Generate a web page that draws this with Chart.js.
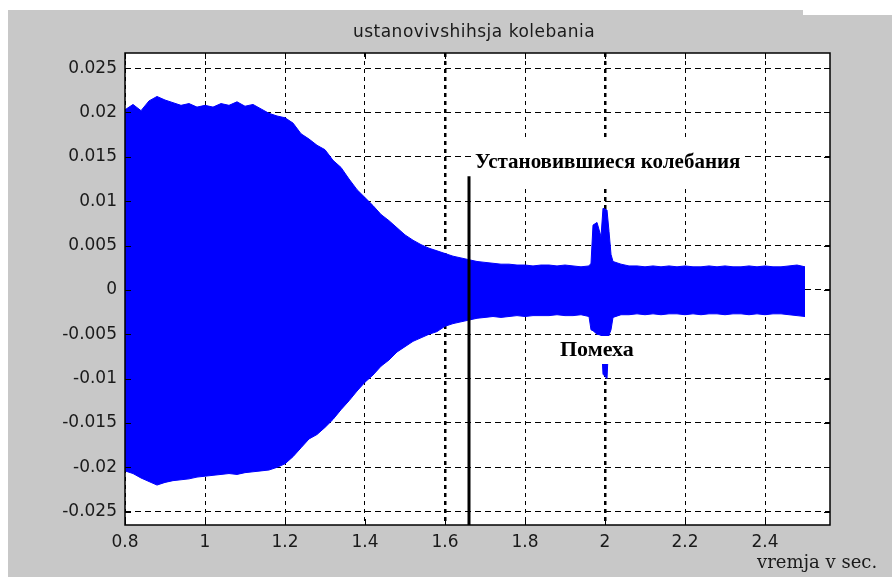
<!DOCTYPE html>
<html>
<head>
<meta charset="utf-8">
<script src="https://cdn.jsdelivr.net/npm/chart.js@4"></script>
<style>
  body { margin: 0; background: #fff; }
  canvas { display: block; }
</style>
</head>
<body>
<canvas id="myChart" width="892" height="577"></canvas>
<script>
// envelope of the oscillation
const times = [0.80, 0.82, 0.84, 0.86, 0.88, 0.90, 0.92, 0.94, 0.96, 0.98,
  1.00, 1.02, 1.04, 1.06, 1.08, 1.10, 1.12, 1.14, 1.16, 1.18,
  1.20, 1.22, 1.24, 1.26, 1.28, 1.30, 1.32, 1.34, 1.36, 1.38,
  1.40, 1.42, 1.44, 1.46, 1.48, 1.50, 1.52, 1.54, 1.56, 1.58,
  1.60, 1.62, 1.64, 1.66, 1.68, 1.70, 1.72, 1.74, 1.76, 1.78,
  1.80, 1.82, 1.84, 1.86, 1.88, 1.90, 1.92, 1.94, 1.96, 1.965,
  1.97, 1.98, 1.99, 1.995, 2.005, 2.01, 2.015, 2.02, 2.04, 2.06,
  2.08, 2.10, 2.12, 2.14, 2.16, 2.18, 2.20, 2.22, 2.24, 2.26,
  2.28, 2.30, 2.32, 2.34, 2.36, 2.38, 2.40, 2.42, 2.44, 2.46,
  2.48, 2.50];
const upper = [0.0203, 0.0209, 0.0202, 0.0213, 0.0218, 0.0214, 0.0211, 0.0208, 0.0210, 0.0206,
  0.0208, 0.0206, 0.0210, 0.0208, 0.0212, 0.0207, 0.0209, 0.0204, 0.0199, 0.0196,
  0.0194, 0.0188, 0.0176, 0.0170, 0.0163, 0.0158, 0.0146, 0.0138, 0.0125, 0.0113,
  0.0104, 0.0095, 0.0085, 0.0078, 0.0070, 0.0062, 0.0056, 0.0051, 0.0047, 0.0044,
  0.0041, 0.0038, 0.0036, 0.0034, 0.0032, 0.0031, 0.0030, 0.0029, 0.0029, 0.0028,
  0.0028, 0.0027, 0.0028, 0.0028, 0.0027, 0.0028, 0.0027, 0.0026, 0.0027, 0.0030,
  0.0073, 0.0076, 0.0060, 0.0092, 0.0090, 0.0066, 0.0040, 0.0032, 0.0029, 0.0027,
  0.0027, 0.0026, 0.0027, 0.0026, 0.0027, 0.0026, 0.0027, 0.0026, 0.0026, 0.0027,
  0.0026, 0.0027, 0.0026, 0.0026, 0.0027, 0.0026, 0.0027, 0.0026, 0.0026, 0.0027,
  0.0028, 0.0026];
const lower = [-0.0204, -0.0207, -0.0212, -0.0216, -0.0220, -0.0217, -0.0215, -0.0214, -0.0213, -0.0211,
  -0.0210, -0.0209, -0.0208, -0.0207, -0.0208, -0.0206, -0.0205, -0.0204, -0.0203, -0.0200,
  -0.0196, -0.0188, -0.0178, -0.0168, -0.0163, -0.0155, -0.0146, -0.0135, -0.0125, -0.0114,
  -0.0104, -0.0096, -0.0086, -0.0079, -0.0070, -0.0064, -0.0058, -0.0054, -0.0050, -0.0047,
  -0.0041, -0.0038, -0.0036, -0.0034, -0.0032, -0.0031, -0.0030, -0.0031, -0.0030, -0.0029,
  -0.0030, -0.0029, -0.0029, -0.0029, -0.0028, -0.0029, -0.0029, -0.0028, -0.0030, -0.0045,
  -0.0046, -0.0050, -0.0051, -0.0095, -0.0100, -0.0051, -0.0045, -0.0031, -0.0028, -0.0028,
  -0.0027, -0.0028, -0.0027, -0.0028, -0.0027, -0.0027, -0.0028, -0.0027, -0.0028, -0.0027,
  -0.0027, -0.0028, -0.0027, -0.0027, -0.0028, -0.0027, -0.0028, -0.0027, -0.0027, -0.0028,
  -0.0029, -0.0030];

const xTicks = [0.8, 1.0, 1.2, 1.4, 1.6, 1.8, 2.0, 2.2, 2.4];
const xTickLabels = ['0.8', '1', '1.2', '1.4', '1.6', '1.8', '2', '2.2', '2.4'];
const yTicks = [-0.025, -0.02, -0.015, -0.01, -0.005, 0, 0.005, 0.01, 0.015, 0.02, 0.025];
const yTickLabels = ['-0.025', '-0.02', '-0.015', '-0.01', '-0.005', '0', '0.005', '0.01', '0.015', '0.02', '0.025'];

const steadyTime = 1.66;   // black marker line
const steadyTop = 0.0128;
const noiseTime = 2.0;

const GREY = 'rgb(200,200,200)';
const BLUE = 'rgb(0,0,255)';

// grey figure background + white axes box
const backdrop = {
  id: 'backdrop',
  beforeDraw(chart) {
    const c = chart.ctx, a = chart.chartArea;
    c.save();
    c.fillStyle = '#fff';
    c.fillRect(0, 0, chart.width, chart.height);
    c.fillStyle = GREY;
    c.beginPath();
    c.moveTo(8, 10); c.lineTo(803, 10); c.lineTo(803, 15);
    c.lineTo(892, 15); c.lineTo(892, 577); c.lineTo(8, 577);
    c.closePath();
    c.fill();
    c.fillStyle = '#fff';
    c.fillRect(a.left, a.top, a.right - a.left, a.bottom - a.top);
    c.restore();
  }
};

function boxedText(c, txt, x, y, padX, padY) {
  const w = c.measureText(txt).width;
  c.fillStyle = '#fff';
  c.fillRect(x - padX, y - padY, w + 2 * padX, 2 * padY);
  c.fillStyle = '#000';
  c.fillText(txt, x, y);
}

const extras = {
  id: 'extras',
  afterDatasetsDraw(chart) {
    const c = chart.ctx, a = chart.chartArea;
    const xs = chart.scales.x, ys = chart.scales.y;
    c.save();
    // frame
    c.strokeStyle = '#000';
    c.lineWidth = 1.5;
    c.strokeRect(a.left, a.top, a.right - a.left, a.bottom - a.top);
    // inward ticks
    c.lineWidth = 1;
    xTicks.forEach(v => {
      const px = Math.round(xs.getPixelForValue(v)) + 0.5;
      c.beginPath();
      c.moveTo(px, a.bottom); c.lineTo(px, a.bottom - 6);
      c.moveTo(px, a.top); c.lineTo(px, a.top + 6);
      c.stroke();
    });
    yTicks.forEach(v => {
      const py = Math.round(ys.getPixelForValue(v)) + 0.5;
      c.beginPath();
      c.moveTo(a.left, py); c.lineTo(a.left + 6, py);
      c.moveTo(a.right, py); c.lineTo(a.right - 6, py);
      c.stroke();
    });

    // annotations
    c.textBaseline = 'middle';
    c.textAlign = 'left';
    c.font = 'bold 21px "Liberation Serif"';
    boxedText(c, 'Установившиеся колебания', xs.getPixelForValue(1.675), 163, 4, 24);
    c.font = 'bold 22px "Liberation Serif"';
    boxedText(c, 'Помеха', xs.getPixelForValue(noiseTime) - 45, 350, 4, 14);

    const lx = xs.getPixelForValue(steadyTime);
    c.strokeStyle = '#000';
    c.lineWidth = 3;
    c.beginPath();
    c.moveTo(lx, ys.getPixelForValue(steadyTop));
    c.lineTo(lx, a.bottom);
    c.stroke();

    // title and x label
    c.fillStyle = '#1a1a1a';
    c.textAlign = 'center';
    c.font = '17px "DejaVu Sans"';
    c.letterSpacing = '0.5px';
    c.fillText('ustanovivshihsja kolebania', 474, 33);
    c.letterSpacing = '0px';
    c.textAlign = 'left';
    c.font = '18px "DejaVu Serif"';
    c.fillText('vremja v sec.', 757, 563);
    c.restore();
  }
};

const ctx = document.getElementById('myChart');
const myChart = new Chart(ctx, {
  type: 'line',
  data: {
    datasets: [{
      data: times.map((t, i) => ({ x: t, y: upper[i] })),
      borderColor: BLUE,
      backgroundColor: BLUE,
      borderWidth: 1,
      pointRadius: 0,
      tension: 0,
      fill: '+1'
    }, {
      data: times.map((t, i) => ({ x: t, y: lower[i] })),
      borderColor: BLUE,
      backgroundColor: BLUE,
      borderWidth: 1,
      pointRadius: 0,
      tension: 0,
      fill: false
    }]
  },
  options: {
    responsive: false,
    animation: false,
    devicePixelRatio: 1,
    layout: { padding: { left: 0, right: 62, top: 53, bottom: 0 } },
    plugins: { legend: { display: false }, tooltip: { enabled: false } },
    scales: {
      x: {
        type: 'linear',
        min: 0.8,
        max: 2.5625,
        afterFit(scale) { scale.height = 52; },
        afterBuildTicks(scale) { scale.ticks = xTicks.map(v => ({ value: v })); },
        grid: {
          color: '#000',
          lineWidth: c => (c.tick && (c.tick.value === 1.6 || c.tick.value === 2.0)) ? 2.5 : 1,
          drawTicks: false
        },
        border: { display: false, dash: [4, 4] },
        ticks: {
          padding: 7,
          color: '#1a1a1a',
          font: { family: 'DejaVu Sans', size: 17 },
          callback: (v, i) => xTickLabels[i]
        }
      },
      y: {
        type: 'linear',
        min: -0.0265,
        max: 0.0267,
        afterFit(scale) { scale.width = 125; },
        afterBuildTicks(scale) { scale.ticks = yTicks.map(v => ({ value: v })); },
        grid: { color: '#000', lineWidth: 1, drawTicks: false },
        border: { display: false, dash: [6, 4] },
        ticks: {
          padding: 8,
          color: '#1a1a1a',
          font: { family: 'DejaVu Sans', size: 17 },
          callback: (v, i) => yTickLabels[i]
        }
      }
    }
  },
  plugins: [backdrop, extras]
});
</script>
</body>
</html>
